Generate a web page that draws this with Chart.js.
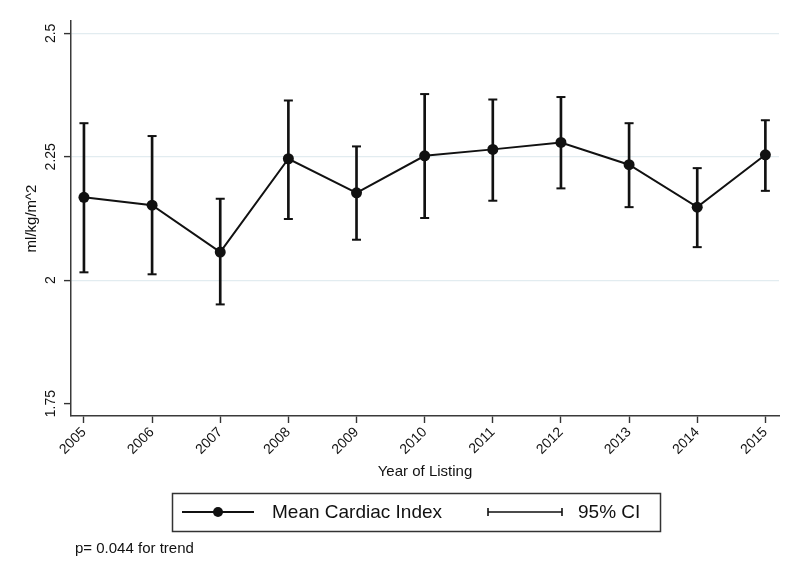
<!DOCTYPE html>
<html>
<head>
<meta charset="utf-8">
<script src="https://cdn.jsdelivr.net/npm/chart.js@4.4.1/dist/chart.umd.min.js"></script>
<style>
  body { margin: 0; background: #fff; }
</style>
</head>
<body>
<canvas id="myChart" width="800" height="582"></canvas>
<script>
const years = [2005, 2006, 2007, 2008, 2009, 2010, 2011, 2012, 2013, 2014, 2015];
const meanIndex = [2.168, 2.152, 2.057, 2.246, 2.177, 2.252, 2.265, 2.279, 2.234, 2.148, 2.254];
const ciLow = [2.016, 2.012, 1.951, 2.124, 2.082, 2.126, 2.161, 2.186, 2.148, 2.067, 2.181];
const ciHigh = [2.318, 2.292, 2.165, 2.364, 2.271, 2.377, 2.366, 2.371, 2.318, 2.227, 2.324];
const yTicks = [1.75, 2, 2.25, 2.5];
const footnote = "p= 0.044 for trend";

const FONT = "'Liberation Sans', Arial, Helvetica, sans-serif";
Chart.defaults.font.family = FONT;
Chart.defaults.color = "#111";

// legend box + footnote, drawn under the x axis like the Stata export
const legendBox = {
    id: "legendBox",
    afterDraw: (chart) => {
        const ctx = chart.ctx;
        const sets = chart.data.datasets;
        const y = 512;
        ctx.save();
        ctx.strokeStyle = "#333";
        ctx.lineWidth = 1.5;
        ctx.strokeRect(172.5, 493.5, 488, 38);

        ctx.strokeStyle = "#111";
        ctx.fillStyle = "#111";
        ctx.lineWidth = 2;
        ctx.beginPath();
        ctx.moveTo(182, y);
        ctx.lineTo(254, y);
        ctx.stroke();
        ctx.beginPath();
        ctx.arc(218, y, 5, 0, Math.PI * 2);
        ctx.fill();

        ctx.lineWidth = 1.6;
        ctx.beginPath();
        ctx.moveTo(488, y);
        ctx.lineTo(562, y);
        ctx.moveTo(488, y - 4);
        ctx.lineTo(488, y + 4);
        ctx.moveTo(562, y - 4);
        ctx.lineTo(562, y + 4);
        ctx.stroke();

        ctx.fillStyle = "#111";
        ctx.font = "19px " + FONT;
        ctx.textBaseline = "middle";
        ctx.textAlign = "left";
        ctx.fillText(sets[0].label, 272, y + 1);
        ctx.fillText(sets[1].label, 578, y + 1);

        ctx.font = "15px " + FONT;
        ctx.fillText(footnote, 75, 549);
        ctx.restore();
    },
};

const ctx = document.getElementById("myChart");
new Chart(ctx, {
    type: "line",
    data: {
        datasets: [
            {
                label: "Mean Cardiac Index",
                data: years.map((x, i) => ({ x: x, y: meanIndex[i] })),
                borderColor: "#111",
                backgroundColor: "#111",
                borderWidth: 2,
                pointRadius: 5.5,
                pointBackgroundColor: "#111",
                pointBorderWidth: 0,
                tension: 0,
                order: 0,
            },
            {
                type: "bar",
                label: "95% CI",
                data: years.map((x, i) => ({ x: x, y: [ciLow[i], ciHigh[i]] })),
                backgroundColor: "#111",
                borderWidth: 0,
                barThickness: 2,
                grouped: false,
                order: 2,
            },
            {
                label: "ci low cap",
                data: years.map((x, i) => ({ x: x, y: ciLow[i] })),
                showLine: false,
                pointStyle: "line",
                pointRadius: 4.5,
                borderColor: "#111",
                borderWidth: 2,
                order: 1,
            },
            {
                label: "ci high cap",
                data: years.map((x, i) => ({ x: x, y: ciHigh[i] })),
                showLine: false,
                pointStyle: "line",
                pointRadius: 4.5,
                borderColor: "#111",
                borderWidth: 2,
                order: 1,
            },
        ],
    },
    options: {
        responsive: false,
        animation: false,
        events: [],
        layout: { padding: { top: 21, right: 21, bottom: 95, left: 0 } },
        plugins: {
            legend: { display: false },
            tooltip: { enabled: false },
        },
        scales: {
            x: {
                type: "linear",
                min: 2004.81,
                max: 2015.2,
                offset: false,
                afterBuildTicks: (s) => { s.ticks = years.map((v) => ({ value: v })); },
                afterFit: (s) => { s.height = 71; },
                ticks: {
                    autoSkip: false,
                    minRotation: 45,
                    maxRotation: 45,
                    padding: 1,
                    font: { size: 14 },
                    color: "#111",
                    callback: (v) => String(v),
                },
                grid: { drawOnChartArea: false, offset: false, tickLength: 7, tickColor: "#333", tickWidth: 1.4 },
                border: { color: "#3a3a3a", width: 1.5 },
                title: {
                    display: true,
                    text: "Year of Listing",
                    font: { size: 15 },
                    color: "#111",
                    padding: { top: 0, bottom: 6 },
                },
            },
            y: {
                min: 1.725,
                max: 2.525,
                afterBuildTicks: (s) => { s.ticks = yTicks.map((v) => ({ value: v })); },
                afterFit: (s) => { s.width = 71; },
                ticks: {
                    minRotation: 90,
                    maxRotation: 90,
                    crossAlign: "center",
                    padding: -1,
                    font: { size: 14 },
                    color: "#111",
                    callback: (v) => String(v),
                },
                grid: {
                    color: (c) => (c.tick && c.tick.value === 1.75 ? "rgba(0,0,0,0)" : "#e2ecf0"),
                    lineWidth: 1.2,
                    tickColor: "#333",
                    tickLength: 7,
                    tickWidth: 1.4,
                },
                border: { color: "#3a3a3a", width: 1.5 },
                title: {
                    display: true,
                    text: "ml/kg/m^2",
                    font: { size: 15 },
                    color: "#111",
                    padding: { top: 23, bottom: 0 },
                },
            },
        },
    },
    plugins: [legendBox],
});
</script>
</body>
</html>
